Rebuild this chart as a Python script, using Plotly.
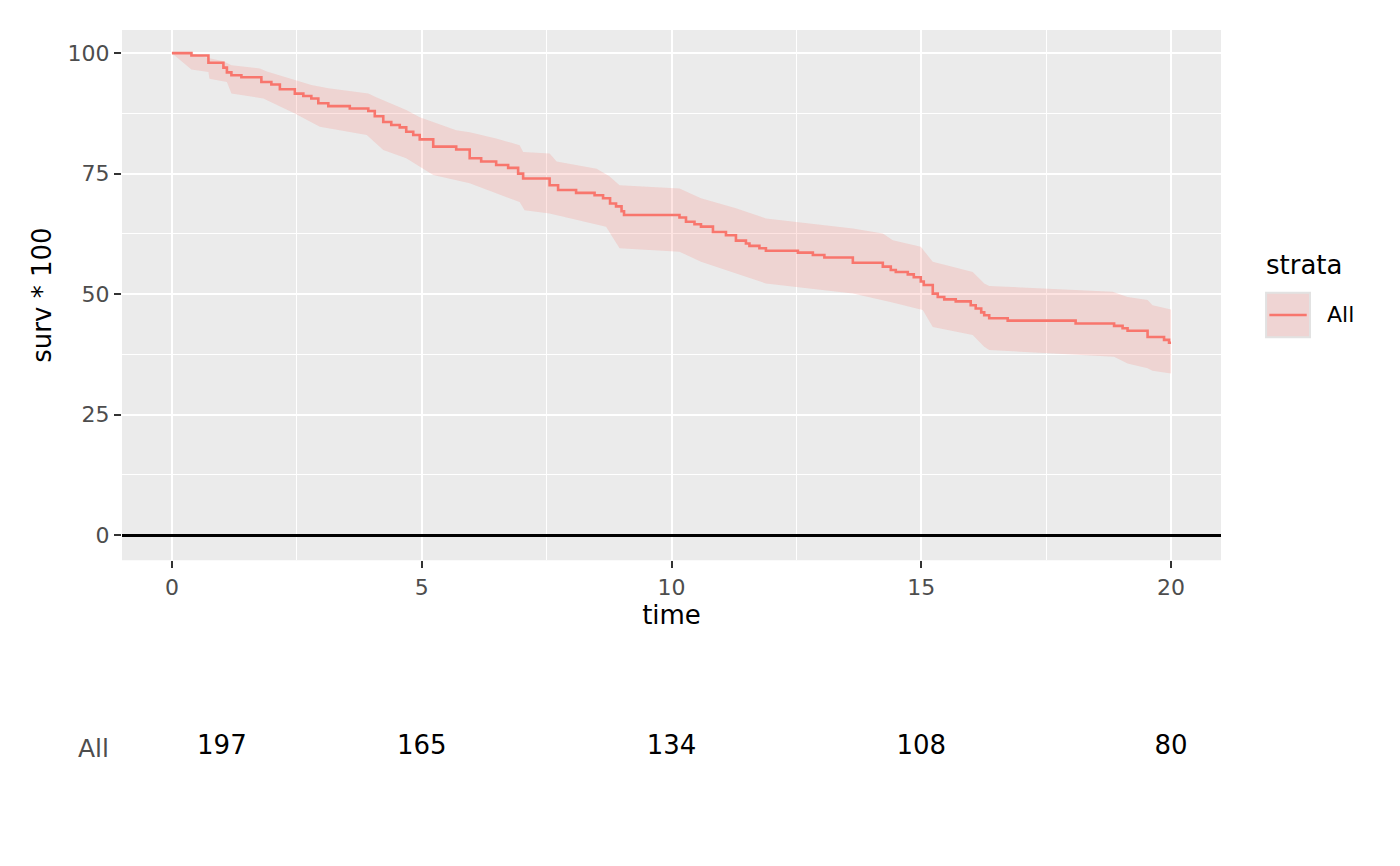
import plotly.graph_objects as go

# Kaplan-Meier step curve (time, survival %)
km_time = [0, 0.39, 0.73, 1.03, 1.10, 1.19, 1.39, 1.79, 1.99, 2.16, 2.46, 2.63, 2.79, 2.93,
           3.13, 3.56, 3.93, 4.06, 4.23, 4.39, 4.56, 4.69, 4.83, 4.96, 5.23, 5.69, 5.96,
           6.19, 6.49, 6.73, 6.93, 7.03, 7.56, 7.73, 8.09, 8.46, 8.63, 8.77, 8.89, 9.00,
           9.05, 10.16, 10.29, 10.46, 10.59, 10.83, 11.09, 11.29, 11.49, 11.56, 11.76,
           11.89, 12.53, 12.83, 13.06, 13.63, 14.23, 14.39, 14.49, 14.73, 14.85, 14.99,
           15.05, 15.23, 15.33, 15.46, 15.69, 15.99, 16.09, 16.20, 16.26, 16.36, 16.73,
           18.09, 18.86, 19.03, 19.13, 19.53, 19.86, 19.96, 20.0]
km_surv = [100, 99.5, 98.0, 97.0, 96.0, 95.4, 95.0, 94.0, 93.5, 92.5, 91.6, 91.1, 90.6, 89.6,
           89.0, 88.5, 88.0, 86.9, 85.7, 85.1, 84.6, 83.7, 83.0, 82.1, 80.6, 80.0, 78.2,
           77.5, 76.8, 76.2, 75.0, 74.0, 72.6, 71.6, 71.0, 70.5, 69.9, 68.8, 68.2, 67.2,
           66.4, 65.9, 65.0, 64.5, 64.0, 62.9, 62.2, 61.1, 60.5, 60.0, 59.5,
           59.0, 58.6, 58.1, 57.6, 56.5, 55.7, 55.0, 54.6, 54.1, 53.5, 52.6,
           51.9, 50.1, 49.4, 48.9, 48.5, 47.7, 47.0, 46.2, 45.6, 45.0, 44.5,
           43.9, 43.4, 42.9, 42.4, 41.1, 40.5, 39.9, 39.9]

# confidence band edges
upper_time = [0, 0.39, 0.73, 1.03, 1.19, 1.76, 1.90, 2.46, 2.79, 3.13, 3.93, 4.10, 4.69,
              4.96, 5.69, 5.96, 6.49, 6.96, 7.03, 7.56, 7.70, 8.50, 8.75, 8.96, 10.16,
              10.59, 11.29, 11.89, 13.63, 14.23, 14.43, 14.99, 15.23, 16.03, 16.26, 16.36,
              18.83, 19.13, 19.53, 19.63, 20.0]
upper_surv = [100, 100, 99.0, 98.3, 97.5, 96.8, 96.2, 94.5, 93.4, 92.7, 91.6, 90.8, 88.2,
              86.7, 84.0, 83.6, 82.3, 80.9, 79.5, 79.2, 77.5, 76.0, 74.5, 72.6, 71.9,
              69.9, 67.8, 65.7, 63.6, 62.6, 61.2, 59.8, 56.7, 54.6, 52.2, 51.7,
              50.5, 49.4, 48.8, 47.7, 46.8]
lower_time = [0, 0.39, 0.73, 0.75, 1.10, 1.19, 1.83, 2.46, 2.96, 3.90, 4.23, 4.69, 5.23,
              5.96, 6.96, 7.06, 7.56, 8.69, 8.96, 10.16, 10.59, 11.29, 11.89, 13.63, 14.36,
              15.03, 15.23, 16.03, 16.26, 16.36, 18.86, 19.13, 19.53, 19.63, 20.0]
lower_surv = [100, 96.6, 96.1, 94.7, 94.0, 91.6, 90.6, 87.5, 84.7, 83.0, 79.9, 78.2, 74.7,
              73.0, 69.1, 67.4, 66.7, 64.0, 59.5, 58.8, 56.7, 54.3, 52.2, 50.1, 48.4,
              46.7, 43.2, 41.5, 39.1, 38.4, 37.0, 35.6, 34.6, 34.1, 33.5]

# number at risk table
risk_strata = "All"
risk_time = [1, 5, 10, 15, 20]
risk_n = [197, 165, 134, 108, 80]

x_ticks = [0, 5, 10, 15, 20]
y_ticks = [0, 25, 50, 75, 100]

line_col = "#F8766D"
band_col = "rgba(248,118,109,0.2)"
font = "DejaVu Sans"

fig = go.Figure()

# band as a closed polygon
fig.add_trace(go.Scatter(
    x=upper_time + lower_time[::-1], y=upper_surv + lower_surv[::-1],
    fill="toself", fillcolor=band_col, line=dict(width=0),
    mode="lines", hoverinfo="skip", showlegend=False, xaxis="x", yaxis="y"))

fig.add_trace(go.Scatter(
    x=km_time, y=km_surv, mode="lines", line=dict(color=line_col, width=2.6, shape="hv"),
    showlegend=False, xaxis="x", yaxis="y"))

# risk table
fig.add_trace(go.Scatter(
    x=risk_time, y=[risk_strata] * len(risk_time), mode="text",
    text=[str(n) for n in risk_n], textfont=dict(family=font, size=26, color="black"),
    showlegend=False, xaxis="x2", yaxis="y2"))

axis_common = dict(showline=False, ticks="outside", ticklen=7, tickwidth=2,
                   tickcolor="#333333", tickfont=dict(family=font, size=22, color="#4D4D4D"))

# the page body adds an 8px offset, margins below compensate for it
fig.update_layout(
    width=1400, height=866,
    margin=dict(l=114, r=187, t=22, b=48),
    paper_bgcolor="white", plot_bgcolor="white",
    font=dict(family=font),
    xaxis=dict(domain=[0, 1], anchor="y", range=[-1, 21], tickvals=x_ticks,
               showgrid=True, gridcolor="white", gridwidth=2.4, zeroline=False,
               minor=dict(tickvals=[2.5, 7.5, 12.5, 17.5], showgrid=True,
                          gridcolor="white", gridwidth=1.2, ticks=""),
               title=dict(text="time", font=dict(family=font, size=26, color="black"),
                          standoff=5),
               **axis_common),
    yaxis=dict(domain=[0.334, 1], anchor="x", range=[-5.2, 104.8], tickvals=y_ticks,
               showgrid=True, gridcolor="white", gridwidth=2.4,
               zeroline=True, zerolinecolor="black", zerolinewidth=2.6,
               minor=dict(tickvals=[12.5, 37.5, 62.5, 87.5], showgrid=True,
                          gridcolor="white", gridwidth=1.2, ticks=""),
               title=dict(text="surv * 100", font=dict(family=font, size=26, color="black"),
                          standoff=8),
               **axis_common),
    xaxis2=dict(domain=[0, 1], anchor="y2", range=[-1, 21], showticklabels=False,
                showgrid=False, zeroline=False, showline=False, ticks=""),
    yaxis2=dict(domain=[0.063, 0.133], anchor="x2", type="category",
                showgrid=False, zeroline=False, showline=False, ticks="outside",
                ticklen=7, tickcolor="rgba(0,0,0,0)",
                tickfont=dict(family=font, size=25, color="#4D4D4D")),
    showlegend=False,
)

# grey panel background
fig.add_shape(type="rect", xref="x domain", yref="y domain", x0=0, x1=1, y0=0, y1=1,
              fillcolor="#EBEBEB", line=dict(width=0), layer="below")

# legend drawn by hand (ggplot style key)
fig.add_annotation(text="strata", xref="paper", yref="paper", x=1.039, y=0.705,
                   xanchor="left", yanchor="middle", showarrow=False,
                   font=dict(family=font, size=26, color="black"))
fig.add_shape(type="rect", xref="paper", yref="paper", x0=1.041, x1=1.081, y0=0.614, y1=0.670,
              fillcolor="#EFD4D3", line=dict(color="#E2E2E2", width=2))
fig.add_shape(type="line", xref="paper", yref="paper", x0=1.044, x1=1.078, y0=0.642, y1=0.642,
              line=dict(color=line_col, width=2.4))
fig.add_annotation(text="All", xref="paper", yref="paper", x=1.095, y=0.642,
                   xanchor="left", yanchor="middle", showarrow=False,
                   font=dict(family=font, size=22, color="black"))

fig.write_html("out.html")
